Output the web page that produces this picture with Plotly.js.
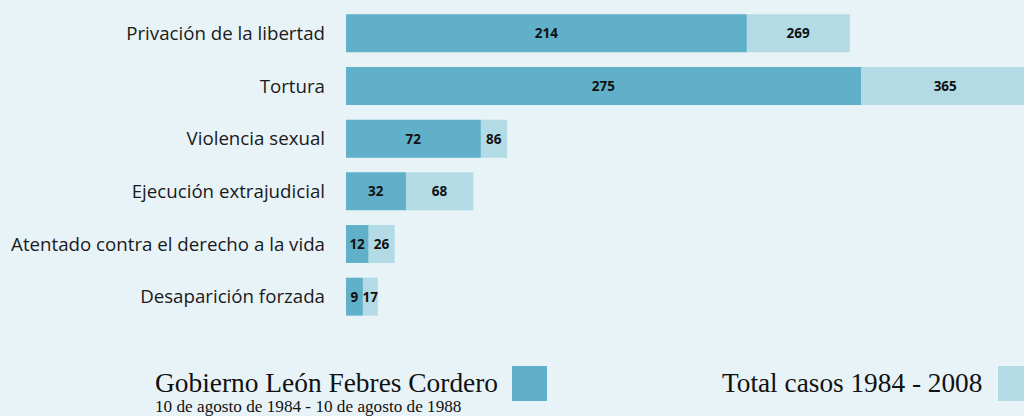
<!DOCTYPE html>
<html>
<head>
<meta charset="utf-8">
<script src="https://cdn.plot.ly/plotly-3.0.1.min.js"></script>
<style>
html,body{margin:0;padding:0;background:#e8f3f8;}
#chart{width:1024px;height:416px;}
</style>
</head>
<body>
<div id="chart"></div>
<script>
const categories = ["Privación de la libertad","Tortura","Violencia sexual","Ejecución extrajudicial","Atentado contra el derecho a la vida","Desaparición forzada"];
const gobierno = [214, 275, 72, 32, 12, 9];
const totales = [269, 365, 86, 68, 26, 17];
const seriesNames = ["Gobierno León Febres Cordero", "Total casos 1984 - 2008"];
const subtitle = "10 de agosto de 1984 - 10 de agosto de 1988";

const W = 1024, H = 416;
const M = {l: 346, r: 0, t: 7, b: 93};
const PW = W - M.l - M.r, PH = H - M.t - M.b;
const px = x => (x - M.l) / PW;
const py = y => (H - M.b - y) / PH;

const darkColor = "#5fb0c8";
const lightColor = "#b3dbe5";
const labelFont = {family: "Open Sans, sans-serif", size: 13.5, color: "#111111", weight: 700};

const remaining = totales.map((t, i) => t - gobierno[i]);

const traces = [
  {
    type: "bar", orientation: "h", name: seriesNames[1],
    y: categories, x: remaining, base: gobierno,
    marker: {color: lightColor},
    text: totales.map(String), textposition: "inside", insidetextanchor: "middle",
    textangle: 0, constraintext: "none", cliponaxis: true,
    textfont: labelFont, insidetextfont: labelFont, hoverinfo: "skip"
  },
  {
    type: "bar", orientation: "h", name: seriesNames[0],
    y: categories, x: gobierno,
    marker: {color: darkColor},
    text: gobierno.map(String), textposition: "inside", insidetextanchor: "middle",
    textangle: 0, constraintext: "none",
    textfont: labelFont, insidetextfont: labelFont, hoverinfo: "skip"
  }
];

const serif = "Liberation Serif, Times New Roman, serif";
const layout = {
  width: W, height: H,
  margin: M,
  paper_bgcolor: "#e8f3f8", plot_bgcolor: "#e8f3f8",
  barmode: "overlay", bargap: 0.28,
  showlegend: false,
  xaxis: {range: [0, 362], showgrid: false, zeroline: false, showticklabels: false, ticks: "", fixedrange: true},
  yaxis: {autorange: "reversed", type: "category", showgrid: false, zeroline: false, ticks: "",
          ticklabelstandoff: 20,
          tickfont: {family: "Open Sans, sans-serif", size: 18.7, color: "#1a1a1a"}, fixedrange: true},
  annotations: [
    {xref: "paper", yref: "paper", x: px(153), y: py(383), xanchor: "left", yanchor: "middle",
     text: seriesNames[0], showarrow: false, font: {family: serif, size: 27.4, color: "#111111"}},
    {xref: "paper", yref: "paper", x: px(153), y: py(406), xanchor: "left", yanchor: "middle",
     text: subtitle, showarrow: false, font: {family: serif, size: 17.2, color: "#111111"}},
    {xref: "paper", yref: "paper", x: px(720), y: py(383), xanchor: "left", yanchor: "middle",
     text: seriesNames[1], showarrow: false, font: {family: serif, size: 27.3, color: "#111111"}}
  ],
  shapes: [
    {type: "rect", xref: "paper", yref: "paper", x0: px(512), x1: px(547), y0: py(366), y1: py(401),
     fillcolor: darkColor, line: {width: 0}},
    {type: "rect", xref: "paper", yref: "paper", x0: px(998), x1: px(1033), y0: py(366), y1: py(401),
     fillcolor: lightColor, line: {width: 0}}
  ]
};

Plotly.newPlot("chart", traces, layout, {displayModeBar: false, staticPlot: true});
</script>
</body>
</html>
